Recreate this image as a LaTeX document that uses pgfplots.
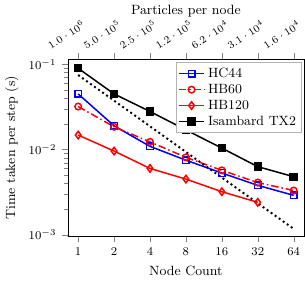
\documentclass[border=0pt]{standalone}
\usepackage{pgfplots}
\pgfplotsset{compat=1.18}
\begin{document}
\begin{tikzpicture}
\begin{axis}[
  scale only axis, width=158pt, height=118pt,
  xmode=log, log basis x=2, ymode=log,
  xmin=0.82, xmax=78, ymin=0.00097, ymax=0.114,
  xtick={1,2,4,8,16,32,64}, xticklabels={1,2,4,8,16,32,64},
  ytick={0.001,0.01,0.1},
  tick align=outside,
  tick label style={font=\footnotesize},
  label style={font=\small},
  xlabel={Node Count}, ylabel={Time taken per step (s)},
  xtick pos=bottom, ytick pos=left,
  legend style={font=\small, at={(0.99,0.985)}, anchor=north east, draw=black!30, row sep=-1pt, inner sep=1.5pt},
  legend cell align=left,
]
\addplot[blue, line width=1pt, mark=square, mark size=2.2pt, mark options={solid, fill=white}] coordinates {
(1,0.045) (2,0.019) (4,0.0109) (8,0.0075) (16,0.0053) (32,0.0038) (64,0.0029)};
\addlegendentry{HC44}
\addplot[red, line width=1pt, dash pattern=on 5pt off 2pt on 1pt off 2pt, mark=o, mark size=2.2pt, mark options={solid, fill=white}] coordinates {
(1,0.032) (2,0.0185) (4,0.0123) (8,0.0081) (16,0.0057) (32,0.0041) (64,0.0033)};
\addlegendentry{HB60}
\addplot[red, line width=1pt, mark=diamond, mark size=2.5pt, mark options={solid, fill=white}] coordinates {
(1,0.0148) (2,0.0096) (4,0.006) (8,0.0045) (16,0.0032) (32,0.0024)};
\addlegendentry{HB120}
\addplot[black, line width=1pt, mark=square*, mark size=2.3pt] coordinates {
(1,0.090) (2,0.045) (4,0.028) (8,0.017) (16,0.0104) (32,0.0063) (64,0.0048)};
\addlegendentry{Isambard TX2}
\addplot[black, line width=1.3pt, dotted, forget plot] coordinates {
(1,0.075) (2,0.0375) (4,0.01875) (8,0.009375) (16,0.0046875) (32,0.00234375) (64,0.001171875)};
\end{axis}
\begin{axis}[
  scale only axis, width=158pt, height=118pt,
  xmode=log, log basis x=2, ymode=log,
  xmin=0.82, xmax=78, ymin=0.00097, ymax=0.114,
  xtick pos=top, xticklabel pos=top, tick align=outside,
  ytick=\empty, hide y axis,
  xtick={1,2,4,8,16,32,64},
  xticklabels={$1.0\cdot10^{6}$,$5.0\cdot10^{5}$,$2.5\cdot10^{5}$,$1.2\cdot10^{5}$,$6.2\cdot10^{4}$,$3.1\cdot10^{4}$,$1.6\cdot10^{4}$},
  x tick label style={font=\scriptsize, rotate=33, anchor=center, yshift=15pt, inner sep=1pt},
  xlabel={Particles per node},
  xlabel style={font=\small, at={(axis description cs:0.5,1)}, anchor=south, yshift=25pt},
]
\addplot[draw=none] coordinates {(1,0.01)};
\end{axis}
\end{tikzpicture}
\end{document}
